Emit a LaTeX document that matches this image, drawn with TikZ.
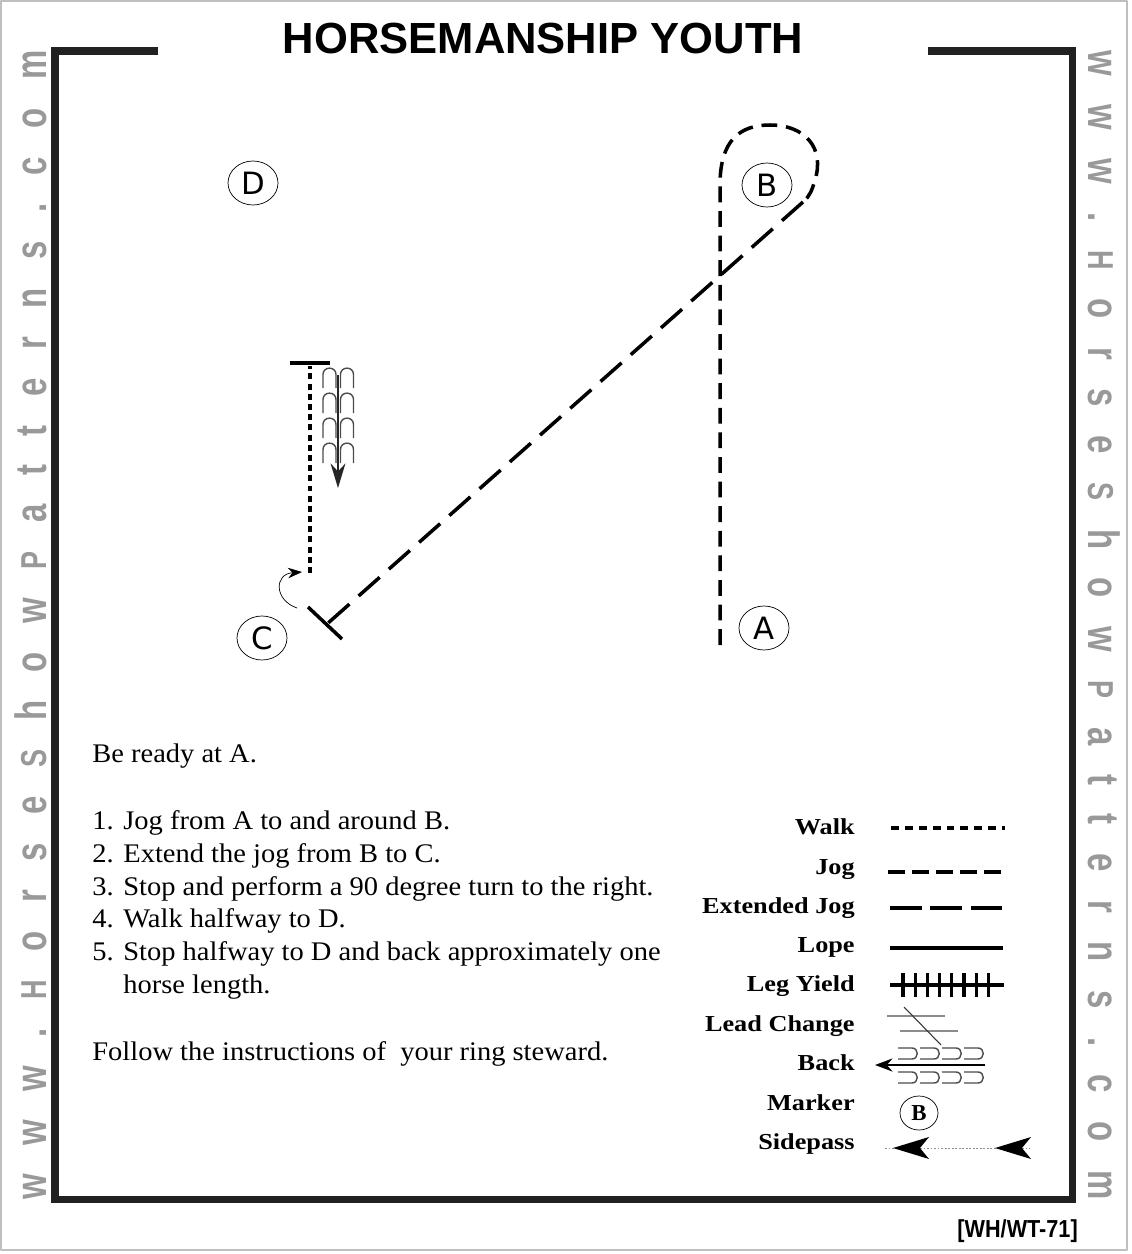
\documentclass[tikz,border=0pt]{standalone}
\usepackage{fontspec}
\setmainfont{Liberation Serif}
\newfontfamily\bodyfont{Liberation Serif}[FakeStretch=1.06]
\newfontfamily\headfont{Liberation Sans}
\newfontfamily\markfont{DejaVu Sans}
\newfontfamily\legfont{Liberation Serif}[FakeStretch=1.15]
\newfontfamily\sidefont{Liberation Sans}[FakeStretch=0.75]
\usetikzlibrary{arrows.meta,shapes.geometric}
\newcommand\sidecap[1]{{\fontsize{20.5}{22}\selectfont #1}}
\newcommand\sitename{\hbox to 23cm{w\hfill w\hfill w\hfill .\hfill \sidecap{H}\hfill o\hfill r\hfill s\hfill e\hfill \sidecap{S}\hfill h\hfill o\hfill w\hfill \sidecap{P}\hfill a\hfill t\hfill t\hfill e\hfill r\hfill n\hfill s\hfill .\hfill c\hfill o\hfill m}}

\begin{document}
\begin{tikzpicture}[x=0.02cm, y=-0.02cm, line join=round, >={Stealth[length=14pt,width=8.5pt]},
	markring/.style={draw, thin, ellipse, minimum width=1cm, minimum height=0.88cm, inner sep=0pt, font=\markfont\fontsize{17.5}{19}\selectfont},
	walkline/.style={line width=1.8pt, dash pattern=on 3.4pt off 2.4pt},
	jogline/.style={line width=2pt, dash pattern=on 9pt off 5pt},
	extjog/.style={line width=2pt, dash pattern=on 16pt off 7pt},
	bodytext/.style={anchor=base west, inner sep=0pt, font=\bodyfont\fontsize{15.3}{17}\selectfont},
	legtext/.style={anchor=base east, inner sep=0pt, font=\legfont\bfseries\fontsize{13}{15}\selectfont},
	sidetext/.style={anchor=base, inner sep=0pt, text=black!40, font=\sidefont\bfseries\fontsize{25}{28}\selectfont},
	backarch/.style={black!70, line width=0.8pt},
	archup/.pic={\draw[backarch] (-6.5,20) -- (-6.5,6.5) .. controls (-6.5,-2) and (6.5,-2) .. (6.5,6.5) -- (6.5,20);},
	archright/.pic={\draw[backarch] (0,0) -- (14,0) .. controls (21,0) and (21,11) .. (14,11) -- (0,11);},
	sidehead/.pic={\fill (0,0) -- (36,-11) -- (27,0) -- (36,11) -- cycle;}]
	\useasboundingbox (0,0) rectangle (1132,1254);
	\draw[black!25, line width=0.6pt] (1,1) rectangle (1127,1250);
	% arena frame and title
	\draw[line width=4pt, black!87, line join=miter] (158,51) -- (55,51) -- (55,1199) -- (1072,1199) -- (1072,51) -- (928,51);
	\node[anchor=base, inner sep=0pt, font=\headfont\bfseries\fontsize{24.8}{28}\selectfont] (title) at (543,53) {HORSEMANSHIP YOUTH};
	\node[sidetext, rotate=90] (siteL) at (46,625) {\sitename};
	\node[sidetext, rotate=-90] (siteR) at (1088,625) {\sitename};
	\node[anchor=base east, inner sep=0pt, font=\headfont\bfseries\fontsize{14}{16}\selectfont, xscale=0.88] (code) at (1078,1237) {[WH/WT-71]};
	% markers
	\node[markring] (D) at (253,183) {D};
	\node[markring] (B) at (767,185) {B};
	\node[markring] (C) at (262,638) {C};
	\node[markring] (A) at (764,628) {A};
	% pattern
	\path
	(720,645) coordinate (jogstart)
	(720,185) coordinate (loopin)
	(803,202) coordinate (loopout)
	(327,624) coordinate (stopC)
	(308,607) coordinate (barL)
	(342,639) coordinate (barR)
	(310,573) coordinate (walkstart)
	(310,366) coordinate (walkend)
	(290,363) coordinate (topL)
	(330,363) coordinate (topR)
	;
	\draw[jogline] (jogstart) -- (loopin) .. controls (720,140) and (740,125) .. (770,125) .. controls (805,125) and (825,148) .. (815,180) .. controls (812,190) and (810,196) .. (loopout);
	\draw[extjog] (loopout) -- (stopC);
	\draw[line width=2pt] (barL) -- (barR);
	\draw[-{Stealth[length=8pt,width=6pt]}, thin] (297,608) .. controls (274,600) and (274,574) .. (302,572);
	\draw[walkline] (walkstart) -- (walkend);
	\draw[line width=2pt] (topL) -- (topR);
	\draw[->, line width=0.9pt, black!85] (338,375) -- (338,488);
	\pic at (329.5,368) {archup}; \pic at (347,368) {archup};
	\pic at (329.5,393) {archup}; \pic at (347,393) {archup};
	\pic at (329.5,418) {archup}; \pic at (347,418) {archup};
	\pic at (329.5,443) {archup}; \pic at (347,443) {archup};
	% instructions
	\node[bodytext] (ready) at (92,762) {Be ready at A.};
	\node[bodytext] (n1) at (92,829) {1.}; \node[bodytext] (s1) at (123,829) {Jog from A to and around B.};
	\node[bodytext] (n2) at (92,862) {2.}; \node[bodytext] (s2) at (123,862) {Extend the jog from B to C.};
	\node[bodytext] (n3) at (92,895) {3.}; \node[bodytext] (s3) at (123,895) {Stop and perform a 90 degree turn to the right.};
	\node[bodytext] (n4) at (92,927) {4.}; \node[bodytext] (s4) at (123,927) {Walk halfway to D.};
	\node[bodytext] (n5) at (92,960) {5.}; \node[bodytext] (s5) at (123,960) {Stop halfway to D and back approximately one};
	\node[bodytext] (s5b) at (123,993) {horse length.};
	\node[bodytext] (follow) at (92,1060) {Follow the instructions of \ your ring steward.};
	% legend
	\node[legtext] (lwalk) at (855,834) {Walk};
	\node[legtext] (ljog) at (855,874) {Jog};
	\node[legtext] (lext) at (855,913) {Extended Jog};
	\node[legtext] (llope) at (855,952) {Lope};
	\node[legtext] (lyield) at (855,991) {Leg Yield};
	\node[legtext] (llead) at (855,1031) {Lead Change};
	\node[legtext] (lback) at (855,1070) {Back};
	\node[legtext] (lmark) at (855,1110) {Marker};
	\node[legtext] (lside) at (855,1149) {Sidepass};
	\draw[walkline, line width=2pt, dash pattern=on 4.5pt off 3.4pt] (891,828) -- (1005,828);
	\draw[jogline, dash pattern=on 9.7pt off 4pt] (888,872) -- (1001,872);
	\draw[extjog, dash pattern=on 18pt off 5pt] (890,908) -- (1003,908);
	\draw[line width=2pt] (890,948) -- (1003,948);
	\draw[line width=1.8pt] (890,985) -- (1004,985);
	\foreach \i in {0,...,7} \draw[line width=1.8pt] (903+\i*12.2,973) -- +(0,24);
	\draw[black!45, line width=0.8pt] (887,1016) -- (945,1016) (900,1031) -- (958,1031);
	\draw[black!80, line width=0.6pt] (904,1007) -- (941,1045);
	\foreach \i in {0,...,3} {\pic at (898+\i*22,1048) {archright}; \pic at (898+\i*22,1072) {archright};}
	\draw[-{Stealth[length=10pt,width=7.5pt]}, line width=0.8pt] (985,1065) -- (875,1065);
	\node[draw, thin, ellipse, minimum width=0.76cm, minimum height=0.68cm, inner sep=0pt, font=\bfseries\fontsize{13}{15}\selectfont] (legB) at (919,1113) {B};
	\draw[black!45, line width=0.5pt, dash pattern=on 1pt off 1pt] (885,1148) -- (1030,1148);
	\pic at (893,1148) {sidehead}; \pic at (995,1148) {sidehead};
\end{tikzpicture}
\end{document}
